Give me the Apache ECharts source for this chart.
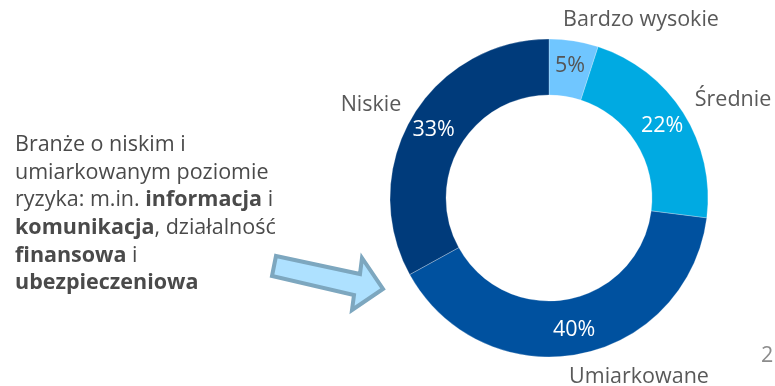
<!DOCTYPE html>
<html>
<head>
<meta charset="utf-8">
<script src="https://cdn.jsdelivr.net/npm/echarts@6/dist/echarts.min.js"></script>
<style>
  html, body { margin: 0; padding: 0; background: #fff; }
  #chart { width: 775px; height: 386px; }
</style>
</head>
<body>
<div id="chart"></div>
<script>
// Risk levels and their shares (%)
const categories = ['Bardzo wysokie', 'Średnie', 'Umiarkowane', 'Niskie'];
const shares = [5, 22, 40, 33];
const sliceColors = ['#70C6FF', '#00AAE2', '#00519F', '#003B7B'];
const valueLabelColors = ['#555555', '#ffffff', '#ffffff', '#ffffff'];

const FONT = '"Open Sans", "Noto Sans", sans-serif';
const FS = 21.5;
const center = [549, 198];
const radius = [103, 159];

// where each category name sits around the ring
const nameLabelPos = {
  'Bardzo wysokie': [641, 20],
  'Średnie': [733, 100],
  'Umiarkowane': [639, 377],
  'Niskie': [371, 105]
};

const chart = echarts.init(document.getElementById('chart'));

const sliceData = categories.map((name, i) => ({
  name,
  value: shares[i],
  itemStyle: { color: sliceColors[i] },
  label: { color: valueLabelColors[i] }
}));

const nameData = categories.map((name, i) => ({ name, value: shares[i] }));

chart.setOption({
  animation: false,
  series: [
    {
      type: 'pie',
      center,
      radius,
      startAngle: 90,
      clockwise: true,
      silent: true,
      label: {
        show: true,
        position: 'inside',
        formatter: '{c}%',
        fontFamily: FONT,
        fontSize: FS
      },
      labelLine: { show: false },
      itemStyle: { borderColor: 'rgba(255,255,255,0.5)', borderWidth: 0.5 },
      data: sliceData
    },
    {
      // category names placed around the ring
      type: 'pie',
      center,
      radius,
      startAngle: 90,
      clockwise: true,
      silent: true,
      itemStyle: { color: 'transparent' },
      label: {
        show: true,
        position: 'outside',
        formatter: '{b}',
        fontFamily: FONT,
        fontSize: FS,
        color: '#595959',
        overflow: 'none'
      },
      labelLine: { show: false },
      labelLayout: (params) => {
        const p = nameLabelPos[categories[params.dataIndex]];
        return { x: p[0], y: p[1], align: 'center', verticalAlign: 'middle' };
      },
      data: nameData
    }
  ],
  graphic: [
    {
      type: 'text',
      left: 15,
      top: 131,
      style: {
        text: 'Branże o niskim i\numiarkowanym poziomie\nryzyka: m.in. {b|informacja} i\n{b|komunikacja}, działalność\n{b|finansowa} i\n{b|ubezpieczeniowa}',
        fontFamily: FONT,
        fontSize: FS,
        lineHeight: 27.7,
        fill: '#4a4a4a',
        rich: {
          b: { fontFamily: FONT, fontSize: FS, fontWeight: 'bold', fill: '#4a4a4a', lineHeight: 27.7 }
        }
      }
    },
    {
      type: 'polygon',
      shape: {
        points: [[276, 256], [360, 274], [362, 258], [383, 289], [352, 310], [354, 295], [272, 276]]
      },
      style: { fill: '#AEE1FF', stroke: '#7DA7BF', lineWidth: 4, lineJoin: 'miter' }
    },
    {
      type: 'text',
      left: 761,
      top: 345,
      style: { text: '2', fontFamily: FONT, fontSize: FS, fill: '#8c8c8c' }
    }
  ]
});
</script>
</body>
</html>
